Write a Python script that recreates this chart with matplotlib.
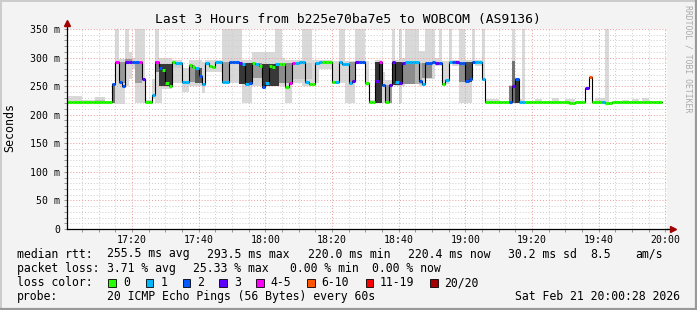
import numpy as np
import matplotlib.pyplot as plt
from matplotlib.patches import Rectangle

plt.rcParams['font.family'] = ['DejaVu Sans Mono']

W, H = 697, 310
N_MIN = 179  # minutes since 17:00

# median rtt per segment: start minute, value (ms), loss class
rtt_start = [0, 14, 15, 16, 17, 18, 20, 22, 23, 24, 26, 27, 28, 29, 30, 31, 32, 33, 35,
             37, 38, 39, 40, 41, 42, 43, 44, 45, 47, 48, 49, 51, 52, 53, 54, 55, 56, 57,
             58, 59, 60, 61, 62, 63, 64, 66, 67, 68, 69, 70, 72, 73, 75, 76, 77, 80, 81,
             82, 83, 85, 86, 87, 88, 90, 91, 93, 94, 95, 96, 97, 98, 99, 100, 101, 102,
             106, 107, 108, 110, 111, 112, 113, 114, 115, 116, 117, 118, 120, 121, 122,
             123, 125, 126, 133, 134, 135, 136, 138, 151, 153, 156, 157, 158, 161, 162, 164]
rtt_value = [222, 254, 292, 257, 250, 292, 293, 293, 263, 222, 234, 293, 281, 279, 256, 251,
             292, 290, 258, 287, 283, 281, 267, 254, 290, 286, 284, 292, 257, 258, 293, 292,
             290, 289, 253, 256, 290, 288, 285, 249, 256, 285, 283, 288, 288, 249, 256, 290,
             290, 292, 257, 254, 290, 292, 292, 257, 257, 292, 288, 256, 259, 293, 293, 256,
             222, 259, 292, 252, 222, 252, 292, 257, 255, 290, 292, 259, 253, 290, 292, 290,
             290, 253, 260, 292, 292, 292, 290, 259, 263, 292, 292, 263, 222, 222, 251, 263,
             222, 222, 220, 222, 247, 266, 222, 222, 220, 222]
rtt_loss = [0, 2, 4, 2, 2, 3, 2, 4, 3, 0, 1, 4, 2, 0, 0, 0, 0, 1, 1, 0, 0, 1, 2, 1, 1, 0,
            0, 1, 1, 1, 2, 2, 3, 1, 1, 2, 0, 1, 0, 2, 1, 0, 0, 1, 0, 0, 4, 4, 1, 1, 1, 0,
            1, 1, 0, 0, 1, 1, 1, 1, 3, 3, 2, 0, 0, 3, 4, 2, 0, 3, 3, 1, 3, 3, 1, 2, 1, 2,
            2, 3, 2, 0, 1, 1, 2, 3, 2, 2, 2, 2, 1, 1, 0, 2, 3, 2, 1, 0, 0, 0, 3, 5, 0, 1,
            0, 0]

# outer (light) smoke: start, end, lowest ping, highest ping (ms)
smoke_start = [0, 5, 9, 14, 15, 16, 18, 19, 20, 21, 24, 26, 27, 28, 29, 32, 35, 37, 41, 42,
               47, 53, 56, 63, 65, 66, 68, 71, 74, 76, 80, 82, 84, 87, 90, 91, 93, 95, 96,
               98, 99, 100, 101, 102, 106, 108, 111, 112, 113, 115, 116, 118, 120, 122, 123,
               125, 126, 130, 133, 134, 135, 136, 137, 138, 141, 146, 150, 159, 162, 167,
               170, 173, 175]
smoke_end = [5, 9, 12, 15, 16, 18, 19, 20, 21, 24, 26, 27, 28, 29, 32, 35, 37, 41, 42, 47,
             53, 56, 63, 65, 66, 68, 71, 74, 76, 80, 82, 84, 87, 90, 91, 93, 95, 96, 98,
             99, 100, 101, 102, 106, 108, 111, 112, 113, 115, 116, 118, 120, 122, 123, 125,
             126, 130, 133, 134, 135, 136, 137, 138, 141, 143, 148, 153, 162, 163, 169,
             172, 175, 177]
smoke_lo = [221, 221, 221, 221, 218, 218, 250, 262, 280, 220, 221, 228, 221, 221, 245, 256,
            240, 250, 238, 275, 255, 220, 250, 250, 250, 220, 256, 250, 255, 280, 255, 256,
            220, 290, 250, 221, 221, 221, 221, 255, 250, 220, 250, 253, 250, 262, 285, 285,
            253, 290, 285, 221, 221, 290, 285, 260, 221, 221, 221, 221, 221, 221, 221, 221,
            221, 221, 218, 221, 219, 221, 221, 221, 221]
smoke_hi = [233, 226, 231, 256, 400, 297, 400, 309, 300, 400, 226, 262, 400, 300, 300, 296,
            282, 296, 292, 296, 400, 296, 309, 400, 300, 295, 296, 400, 296, 296, 294, 400,
            294, 400, 294, 225, 296, 275, 260, 400, 296, 400, 300, 400, 312, 400, 300, 400,
            294, 400, 296, 400, 296, 400, 296, 400, 227, 224, 252, 400, 265, 228, 400, 223,
            227, 229, 228, 229, 400, 226, 227, 229, 224]

# inner (dark) smoke: start, end, low, high, grey level
core_start = [9, 14, 16, 18, 21, 27, 28, 32, 37, 39, 47, 52, 56, 59, 64, 68, 85, 93, 96, 98,
              101, 105, 107, 118, 120, 133, 134, 135]
core_end = [12, 15, 18, 20, 23, 28, 32, 35, 39, 41, 49, 56, 59, 64, 68, 74, 87, 95, 98, 101,
            105, 107, 110, 120, 122, 134, 135, 136]
core_lo = [221, 221, 255, 291, 255, 275, 250, 282, 258, 255, 258, 254, 265, 250, 255, 262,
           256, 221, 221, 252, 253, 253, 265, 258, 258, 221, 221, 221]
core_hi = [226, 254, 292, 297, 292, 294, 288, 291, 287, 282, 292, 291, 290, 288, 290, 291,
           292, 292, 252, 292, 292, 290, 290, 290, 292, 250, 294, 263]
core_grey = [0.75, 0.45, 0.6, 0.6, 0.62, 0.5, 0.22, 0.8, 0.6, 0.35, 0.62, 0.22, 0.6, 0.22,
             0.55, 0.78, 0.6, 0.2, 0.6, 0.22, 0.55, 0.7, 0.55, 0.55, 0.3, 0.5, 0.45, 0.2]

loss_labels = ['0', '1', '2', '3', '4-5', '6-10', '11-19', '20/20']
loss_colors = ['#26ff00', '#00b8ff', '#0059ff', '#5e00ff', '#ff00ff', '#ff5500',
               '#ff0000', '#a10000']

time_ticks = [20, 40, 60, 80, 100, 120, 140, 160, 180]
time_labels = ['17:20', '17:40', '18:00', '18:20', '18:40', '19:00', '19:20', '19:40', '20:00']
y_ticks = [0, 50, 100, 150, 200, 250, 300, 350]
y_labels = ['0', '50 m', '100 m', '150 m', '200 m', '250 m', '300 m', '350 m']


def expand(starts, values, n):
    out = np.empty(n)
    bounds = list(starts) + [n]
    for i in range(len(starts)):
        out[bounds[i]:bounds[i + 1]] = values[i]
    return out


def fx(x):
    return x / W


def fy(y):
    return 1 - y / H


rtt = expand(rtt_start, rtt_value, N_MIN)
loss = expand(rtt_start, rtt_loss, N_MIN).astype(int)
minutes = np.arange(N_MIN)

fig = plt.figure(figsize=(W / 100, H / 100), dpi=100, facecolor='#f3f3f3')
ax = fig.add_axes([fx(67), 1 - 229 / H, 600 / W, 200 / H])
ax.set_facecolor('white')

# smoke
s0 = np.array(smoke_start)
ax.bar(s0, np.array(smoke_hi) - np.array(smoke_lo), bottom=smoke_lo,
       width=np.array(smoke_end) - s0, align='edge', color='#d9d9d9', lw=0, zorder=1)
c0 = np.array(core_start)
ax.bar(c0, np.array(core_hi) - np.array(core_lo), bottom=core_lo,
       width=np.array(core_end) - c0, align='edge',
       color=[str(g) for g in core_grey], lw=0, zorder=3)

# grid (between light and dark smoke)
dot = (0, (1, 2))
for m in range(5, 181, 5):
    if m % 20:
        ax.axvline(m, color='#cccccc', lw=0.7, ls=dot, zorder=2)
for v in range(10, 351, 10):
    if v % 50:
        ax.axhline(v, color='#cccccc', lw=0.7, ls=dot, zorder=2)
for m in time_ticks:
    ax.axvline(m, color='#eb9a9a', lw=0.7, ls=dot, zorder=2)
for v in y_ticks[1:]:
    ax.axhline(v, color='#eb9a9a', lw=0.7, ls=dot, zorder=2)

# median line
ax.step(np.append(minutes, N_MIN), np.append(rtt, rtt[-1]), where='post',
        color='black', lw=0.8, zorder=4)
ax.hlines(rtt, minutes, minutes + 1, colors=[loss_colors[k] for k in loss],
          lw=2.2, zorder=5)

ax.set_xlim(0.5, 180.5)
ax.set_ylim(0, 350)
ax.set_xticks(time_ticks)
ax.set_xticklabels(time_labels)
ax.set_yticks(y_ticks)
ax.set_yticklabels(y_labels)
ax.set_xticks(range(5, 181, 5), minor=True)
ax.set_yticks(range(10, 351, 10), minor=True)
ax.tick_params(axis='both', which='both', length=2, width=0.6, color='#888888',
               labelsize=7.1, pad=3)
ax.tick_params(axis='x', pad=2.5)
for side in ['top', 'right']:
    ax.spines[side].set_visible(False)
for side in ['left', 'bottom']:
    ax.spines[side].set_color('black')
    ax.spines[side].set_linewidth(0.9)
    ax.spines[side].set_zorder(6)

# axis arrows
ax.plot([0, 0], [1, 1.035], transform=ax.transAxes, color='black', lw=0.9, clip_on=False)
ax.plot([0], [1.03], transform=ax.transAxes, marker='^', ms=4.5, color='#a00000',
        clip_on=False)
ax.plot([1, 1.012], [0, 0], transform=ax.transAxes, color='black', lw=0.9, clip_on=False)
ax.plot([1.01], [0], transform=ax.transAxes, marker='>', ms=4.5, color='#a00000',
        clip_on=False)

fig.text(fx(10), fy(127), 'Seconds', rotation=90, ha='center', va='center', fontsize=8.4)
fig.text(fx(348), fy(19), 'Last 3 Hours from b225e70ba7e5 to WOBCOM (AS9136)',
         ha='center', va='center', fontsize=9.4)
fig.text(fx(688), fy(59), 'RRDTOOL / TOBI OETIKER', rotation=270, ha='center',
         va='center', fontsize=5.9, color='#aaaaaa')

# legend rows
fs = 8.3
row1 = [(16.7, 'median rtt:'), (107.3, '255.5 ms avg'), (207.3, '293.5 ms max'),
        (308, '220.0 ms min'), (408.3, '220.4 ms now'), (507.5, '30.2 ms sd'),
        (590, '8.5'), (635.5, 'am/s')]
row2 = [(16.7, 'packet loss:'), (107.3, '3.71 % avg'), (193, '25.33 % max'),
        (290, '0.00 % min'), (372.3, '0.00 % now')]
for x, t in row1:
    fig.text(fx(x), fy(254), t, ha='left', va='center', fontsize=fs)
for x, t in row2:
    fig.text(fx(x), fy(268.3), t, ha='left', va='center', fontsize=fs)

fig.text(fx(16.7), fy(282.5), 'loss color:', ha='left', va='center', fontsize=fs)
box_x = [108.3, 145.7, 182.7, 219, 256, 307.3, 365.8, 430]
lab_x = [123.3, 160.7, 197.3, 234.3, 270.7, 321.7, 380, 444.4]
for bx, lx, lab, col in zip(box_x, lab_x, loss_labels, loss_colors):
    fig.add_artist(Rectangle((fx(bx), fy(286.8)), 7.5 / W, 7.5 / H, transform=fig.transFigure,
                             facecolor=col, edgecolor='black', lw=0.6))
    fig.text(fx(lx), fy(282.5), lab, ha='left', va='center', fontsize=fs)

fig.text(fx(16.7), fy(296.5), 'probe:', ha='left', va='center', fontsize=fs)
fig.text(fx(107.3), fy(296.5), '20 ICMP Echo Pings (56 Bytes) every 60s', ha='left',
         va='center', fontsize=fs)
fig.text(fx(680), fy(296.5), 'Sat Feb 21 20:00:28 2026', ha='right', va='center',
         fontsize=fs)

# frame shading
fig.add_artist(plt.Line2D([0, 1], [fy(0.5), fy(0.5)], transform=fig.transFigure,
                          color='#cbcbcb', lw=1.4))
fig.add_artist(plt.Line2D([fx(0.5), fx(0.5)], [0, 1], transform=fig.transFigure,
                          color='#cbcbcb', lw=1.4))
fig.add_artist(plt.Line2D([0, 1], [fy(309), fy(309)], transform=fig.transFigure,
                          color='#999999', lw=1.6))
fig.add_artist(plt.Line2D([fx(696), fx(696)], [0, 1], transform=fig.transFigure,
                          color='#999999', lw=1.6))

fig.savefig('out.png', dpi=100, facecolor=fig.get_facecolor())
